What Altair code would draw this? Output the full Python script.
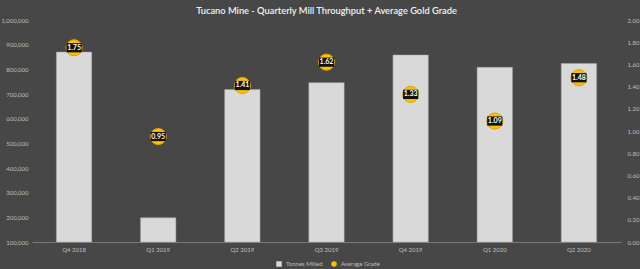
import altair as alt
import pandas as pd

quarters = ["Q4 2018", "Q1 2019", "Q2 2019", "Q3 2019", "Q4 2019", "Q1 2020", "Q2 2020"]
tonnes = [870000, 198000, 718000, 746000, 858000, 808000, 824000]
grades = [1.75, 0.95, 1.41, 1.62, 1.33, 1.09, 1.48]
left_ticks = [100000, 200000, 300000, 400000, 500000, 600000, 700000, 800000, 900000, 1000000]
right_ticks = [0.0, 0.2, 0.4, 0.6, 0.8, 1.0, 1.2, 1.4, 1.6, 1.8, 2.0]
series_names = ["Tonnes Milled", "Average Grade"]

df = pd.DataFrame({
    "quarter": quarters,
    "tonnes": tonnes,
    "grade": grades,
    "s_bar": series_names[0],
    "s_pt": series_names[1],
})

label_color = "#bfbfbf"
font = "Lato"

x = alt.X("quarter:N", sort=quarters, title=None,
          scale=alt.Scale(paddingInner=0.58, paddingOuter=0.29),
          axis=alt.Axis(labelAngle=0, labelColor=label_color, labelFontSize=6, labelFont=font,
                        ticks=False, domainColor="#7a7a7a", labelPadding=4))

color = alt.Color("series:N",
                  scale=alt.Scale(domain=series_names, range=["#d9d9d9", "#ffc000"]),
                  legend=alt.Legend(title=None, orient="none", direction="horizontal",
                                    legendX=244, legendY=241, labelColor=label_color,
                                    labelFontSize=6, labelFont=font, symbolSize=30,
                                    columnPadding=8, symbolStrokeWidth=0))

bars = alt.Chart(df).transform_calculate(series="datum.s_bar").mark_bar(
    stroke="#a6a6a6", strokeWidth=0.5
).encode(
    x=x,
    y=alt.Y("tonnes:Q", title=None,
            scale=alt.Scale(domain=[100000, 1000000], zero=False, nice=False),
            axis=alt.Axis(values=left_ticks, format=",.0f", labelColor=label_color, labelFontSize=6,
                          labelFont=font, ticks=False, domain=False, grid=False, labelPadding=4)),
    y2=alt.datum(100000),
    color=color,
)

yg = alt.Y("grade:Q", title=None,
           scale=alt.Scale(domain=[0, 2], nice=False),
           axis=alt.Axis(values=right_ticks, format=".2f", orient="right", labelColor=label_color,
                         labelFontSize=6, labelFont=font, ticks=False, domain=False, grid=False,
                         labelPadding=6))

points = alt.Chart(df).transform_calculate(series="datum.s_pt").mark_point(
    filled=True, size=260, stroke="#d9a400", strokeWidth=1, opacity=1
).encode(
    x=x,
    y=yg,
    color=color,
    shape=alt.Shape("series:N", scale=alt.Scale(domain=series_names, range=["square", "circle"]),
                    legend=None),
)

boxes = alt.Chart(df).mark_point(
    filled=True, size=85, color="#111111", opacity=1,
    shape="M-1.65,-1L1.65,-1L1.65,1L-1.65,1Z"
).encode(x=x, y=yg)

labels = alt.Chart(df).mark_text(
    color="white", fontSize=7, font=font, fontWeight="bold"
).encode(x=x, y=yg, text=alt.Text("grade:Q", format=".2f"))

right = alt.layer(points, boxes, labels)

chart = alt.layer(bars, right).resolve_scale(y="independent").properties(
    width=589, height=222,
    autosize=alt.AutoSizeParams(type="none"),
    padding={"left": 32, "top": 20, "right": 19, "bottom": 27},
    background="#474747",
    title=alt.Title("Tucano Mine - Quarterly Mill Throughput + Average Gold Grade",
                    color="#f2f2f2", fontSize=9.3, font=font, fontWeight=600, offset=1,
                    anchor="middle"),
).configure_view(stroke=None)

chart.save("out.html", embed_options={"renderer": "svg", "actions": False})
